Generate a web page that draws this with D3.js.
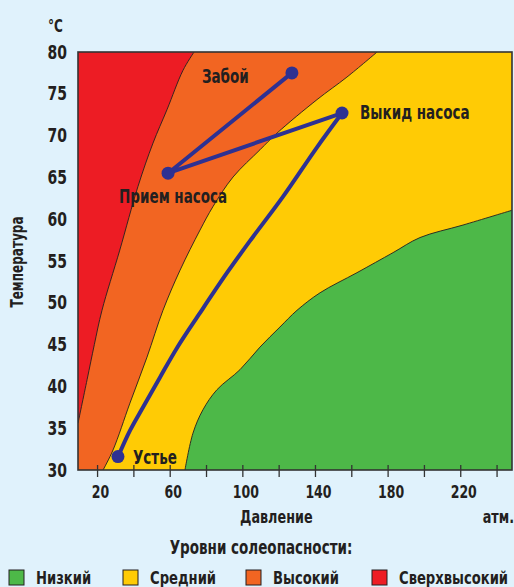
<!DOCTYPE html>
<html>
<head>
<meta charset="utf-8">
<title>Уровни солеопасности</title>
<script src="https://d3js.org/d3.v7.min.js"></script>
<style>
  body { margin: 0; background: #e0f2fc; }
  svg text { font-family: "DejaVu Sans Condensed", "DejaVu Sans", sans-serif; font-weight: bold; fill: #231f20; }
</style>
</head>
<body>
<div id="chart"></div>
<script>
// давление, атм  /  температура, °C
var xTicks = [20, 40, 60, 80, 100, 120, 140, 160, 180, 200, 220, 240];
var xLabels = [20, 60, 100, 140, 180, 220];
var yTicks = [30, 35, 40, 45, 50, 55, 60, 65, 70, 75, 80];

// границы зон [давление, температура]
var redEdge = [[9.5,35.6],[14.5,40.8],[18.5,45],[22.7,49.1],[32.5,56.3],[42.5,63.9],[50.8,69.1],[58.5,73.1],[67.3,77.8],[73.4,80]];
var orangeEdge = [[23.3,30],[28.8,32.4],[38.1,38],[47.5,43.5],[56.3,49.1],[65.7,53.9],[76.7,58.7],[83.8,61.5],[94.9,65.05],[109.7,68.3],[119.1,70.3],[141.1,74.3],[157.6,77],[174.2,80]];
var greenEdge = [[68.4,30],[72.8,34.4],[78.3,37.2],[86,39.6],[98.7,42],[109.7,44.7],[120.7,47.1],[130.1,49.1],[142.8,51.2],[163.1,53.6],[183,56],[197.8,57.8],[221.5,59.3],[249,61.1]];

// линия процесса: Устье -> Выкид насоса
var liftCurve = [[31.5,31.56],[38.1,34.7],[45.3,37.5],[54.7,41.1],[64,44.6],[76.7,48.8],[91.6,53.6],[104.2,57.4],[122.4,62.7],[141.1,68.6],[154.9,72.7]];
var points = [
  {name: "Устье", p: 31.5, t: 31.6, dx: 15, dy: 7},
  {name: "Выкид насоса", p: 154.9, t: 72.7, dx: 18, dy: 6},
  {name: "Прием насоса", p: 59.1, t: 65.5, dx: -49, dy: 30},
  {name: "Забой", p: 127.3, t: 77.5, dx: -90, dy: 10}
];

var legendNames = ["Низкий", "Средний", "Высокий", "Сверхвысокий"];
var legendColors = ["#4db848", "#ffcb05", "#f26522", "#ed1c24"];
var legendX = [9, 123, 246, 372];

var W = 514, H = 587;
var x0 = 9.5, x1 = 248.5;
var K = 0.79; // сжатие шрифта по горизонтали

var svg = d3.select("#chart").append("svg")
  .attr("width", W).attr("height", H);

var x = d3.scaleLinear().domain([x0, x1]).range([78, 512]);
var y = d3.scaleLinear().domain([30, 80]).range([470, 52]);

function label(sel, tx, ty, s, size, anchor, rot) {
  return sel.append("text")
    .attr("transform", "translate(" + tx + "," + ty + ")" + (rot ? " rotate(" + rot + ")" : "") + " scale(" + K + ",1)")
    .attr("text-anchor", anchor || "start").attr("font-size", size).text(s);
}

svg.append("defs").append("clipPath").attr("id", "plot")
  .append("rect").attr("x", 78).attr("y", 52).attr("width", 434).attr("height", 418);

var area = svg.append("g").attr("clip-path", "url(#plot)");

// средний уровень — весь фон
area.append("rect").attr("x", 78).attr("y", 52).attr("width", 434).attr("height", 418)
  .attr("fill", legendColors[1]);

var line = d3.line().x(function(d) { return x(d[0]); }).y(function(d) { return y(d[1]); })
  .curve(d3.curveCatmullRom);
var poly = d3.line().x(function(d) { return x(d[0]); }).y(function(d) { return y(d[1]); });

function zone(edge, extra, color) {
  var curveD = line(edge);
  var closeD = poly([edge[edge.length - 1]].concat(extra).concat([edge[0]]));
  area.append("path")
    .attr("d", curveD + "L" + closeD.slice(1) + "Z")
    .attr("fill", color).attr("stroke", "none");
  area.append("path").attr("d", curveD)
    .attr("fill", "none").attr("stroke", "#231f20").attr("stroke-width", 0.9);
}

zone(greenEdge, [[x1 + 2, 30]], legendColors[0]);
zone(orangeEdge, [[x0 - 2, 80], [x0 - 2, 30]], legendColors[2]);
zone(redEdge, [[x0 - 2, 80]], legendColors[3]);

// рамка
svg.append("rect").attr("x", 78).attr("y", 52).attr("width", 434).attr("height", 418)
  .attr("fill", "none").attr("stroke", "#333").attr("stroke-width", 1.6);

// линия процесса
var blue = "#2e3192";
svg.append("path").attr("d", line(liftCurve))
  .attr("fill", "none").attr("stroke", blue).attr("stroke-width", 4);
svg.append("path")
  .attr("d", poly(points.slice(1).map(function(d) { return [d.p, d.t]; })))
  .attr("fill", "none").attr("stroke", blue).attr("stroke-width", 4).attr("stroke-linejoin", "round");
svg.selectAll(".dot").data(points).enter().append("circle")
  .attr("cx", function(d) { return x(d.p); })
  .attr("cy", function(d) { return y(d.t); })
  .attr("r", 6.5).attr("fill", blue);
points.forEach(function(d) {
  label(svg, x(d.p) + d.dx, y(d.t) + d.dy, d.name, 19);
});

// оси
var xAxis = svg.append("g").attr("transform", "translate(0,470)")
  .call(d3.axisBottom(x).tickValues(xTicks)
    .tickFormat(function(d) { return xLabels.indexOf(d) >= 0 ? d : ""; })
    .tickSizeInner(7).tickSizeOuter(0).tickPadding(9));
xAxis.select(".domain").remove();
xAxis.selectAll(".tick line").attr("y1", -5).attr("stroke", "#333").attr("stroke-width", 1.3);
xAxis.selectAll(".tick text").attr("font-size", 17).attr("transform", "translate(3,0) scale(0.82,1)");

var yAxis = svg.append("g").attr("transform", "translate(78,0)")
  .call(d3.axisLeft(y).tickValues(yTicks).tickSize(0).tickPadding(11));
yAxis.select(".domain").remove();
yAxis.selectAll(".tick text").attr("font-size", 19).attr("x", -11 / 0.82).attr("transform", "scale(0.82,1)");

label(svg, 48, 32, "°C", 17);
label(svg, 23, 262, "Температура", 17, "middle", -90);
label(svg, 240, 523, "Давление", 18);
label(svg, 514, 523, "атм.", 18, "end");
label(svg, 261, 554, "Уровни солеопасности:", 19, "middle");

// легенда
var lg = svg.selectAll(".lg").data(legendNames).enter().append("g")
  .attr("transform", function(d, i) { return "translate(" + legendX[i] + ",570)"; });
lg.append("rect").attr("width", 15).attr("height", 15)
  .attr("fill", function(d, i) { return legendColors[i]; })
  .attr("stroke", "#231f20").attr("stroke-width", 1);
lg.each(function(d) { label(d3.select(this), 27, 13.5, d, 18.5); });
</script>
</body>
</html>
